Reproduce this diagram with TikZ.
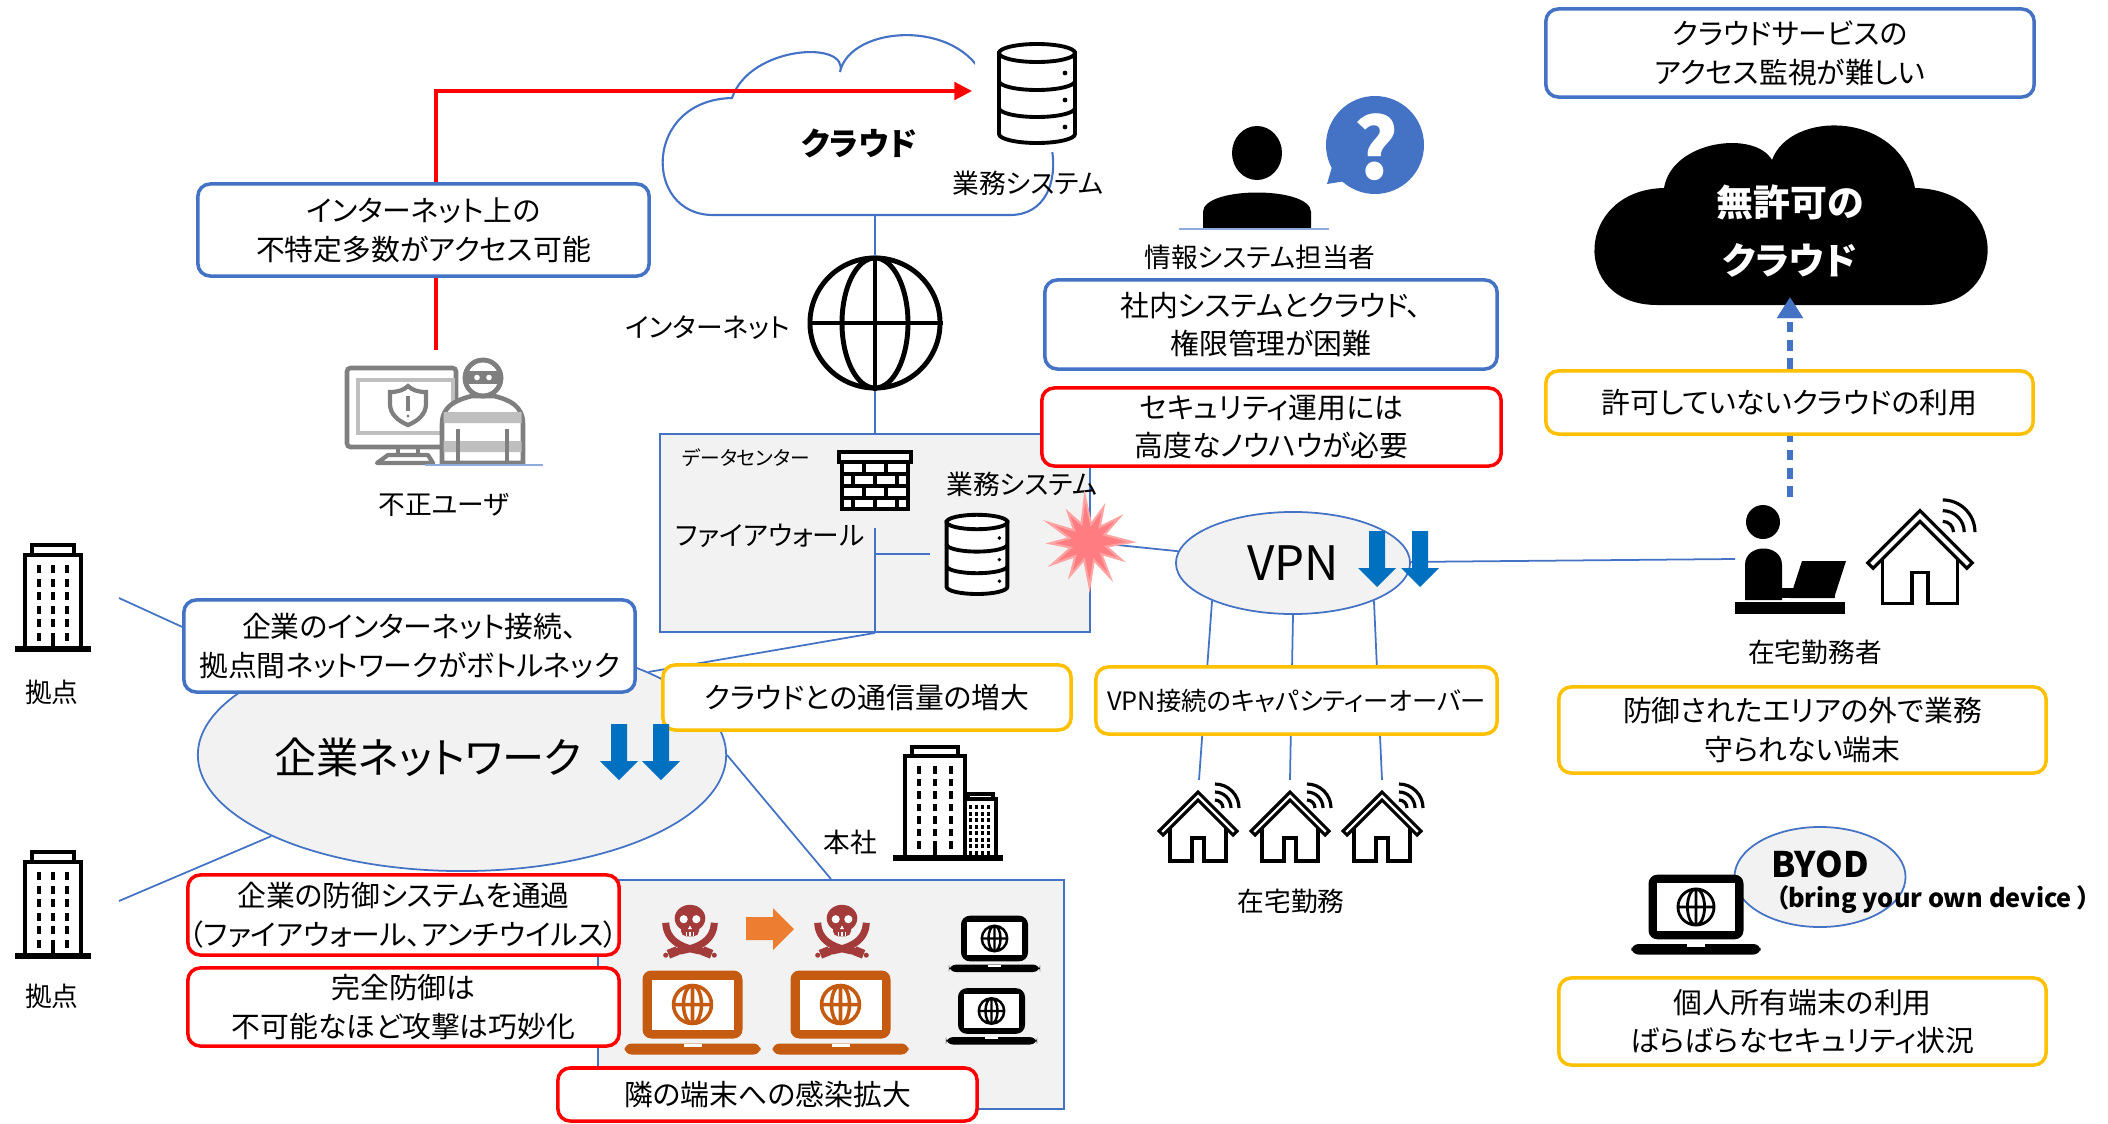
\documentclass[tikz,border=0pt]{standalone}
\usepackage{fontspec}
\setmainfont{Noto Sans CJK JP}[RawFeature=+palt]
\usepackage{xcolor}
\usetikzlibrary{positioning, shapes.geometric, arrows.meta}

\definecolor{msblue}{HTML}{4472C4}
\definecolor{msred}{HTML}{FF0000}
\definecolor{msgold}{HTML}{FFC000}
\definecolor{flowblue}{HTML}{0070C0}
\definecolor{panel}{HTML}{F2F2F2}
\definecolor{burstpink}{HTML}{FF7C80}
\definecolor{burstedge}{HTML}{FFA3A3}
\definecolor{skull}{HTML}{A33B3B}
\definecolor{rust}{HTML}{C55A11}
\definecolor{tangerine}{HTML}{ED7D31}
\definecolor{ink}{HTML}{7F7F7F}
\definecolor{mist}{HTML}{BFBFBF}
\definecolor{paleblue}{HTML}{8FAADC}

\newcommand\boxfont{\fontsize{8.2}{11}\selectfont}
\newcommand\tagfont{\fontsize{7.6}{9}\selectfont}

\tikzset{
  pics/dbstack/.style={code={
    \filldraw[fill=white, line width=1.1pt] (-38,0) -- (-38,81) arc (180:0:38 and 9) -- (38,0) -- cycle;
    \filldraw[fill=white, line width=1.1pt] (0,0) ellipse (38 and 9);
    \draw[line width=1.1pt] (-38,28) arc (180:0:38 and 9) (-38,55) arc (180:0:38 and 9);
    \fill (28,20) circle (2.4) (28,47) circle (2.4) (28,74) circle (2.4);
  }},
  pics/laptop/.style={code={
    \fill[rounded corners=2.5pt] (-50,-34) rectangle (50,34);
    \fill[white] (-41,-25) rectangle (41,25);
    \fill[rounded corners=2pt] (-68,39) rectangle (68,50);
    \fill[white] (-9,39) rectangle (9,42.5);
    \draw[line width=#1] (0,0) circle (19) (0,-19) -- (0,19) (-19,0) -- (19,0) (0,0) ellipse (9 and 19);
  }},
  pics/jollyroger/.style={code={
    \fill (0,-3) ellipse (17 and 15);
    \fill[rounded corners=1.5pt] (-10,3) rectangle (10,17);
    \fill[white] (-7,-2) circle (4.5) (7,-2) circle (4.5);
    \fill[white] (0,5) -- (-2.2,9) -- (2.2,9) -- cycle;
    \draw[white, line width=0.5pt] (-4,12) -- (-4,17) (0,12) -- (0,17) (4,12) -- (4,17);
    \draw[line width=2pt] (-27,2) .. controls (-26,24) and (-6,31) .. (16,34);
    \draw[line width=2pt] (27,2) .. controls (26,24) and (6,31) .. (-16,34);
    \draw[line width=2.6pt] (14,33) -- (24,37) (-14,33) -- (-24,37);
    \fill (27,38) circle (2.8) (-27,38) circle (2.8);
  }},
  pics/tower/.style={code={
    \filldraw[fill=white, line width=1.1pt] (-28,-94) rectangle (28,0);
    \filldraw[fill=white, line width=1.1pt] (-21,-104) rectangle (21,-94);
    \draw[line width=1.6pt] (-38,0) -- (38,0);
    \foreach \c in {-14,14}
      \foreach \r in {0,...,5}
        \fill (\c-2.3,-84+13.5*\r) rectangle ++(4.6,8);
    \foreach \r in {0,...,4}
      \fill (-2.3,-84+13.5*\r) rectangle ++(4.6,8);
    \fill (-2.3,-16.5) rectangle (2.3,0);
  }},
  pics/home/.style={code={
    \filldraw[fill=white, line width=0.9pt, line join=miter] (-39,38) -- (0,-1) -- (39,38) -- (35,42) -- (0,7) -- (-35,42) -- cycle;
    \draw[line width=0.9pt] (-28,35) -- (-28,68) -- (-6,68) -- (-6,45) -- (6,45) -- (6,68) -- (28,68) -- (28,35);
    \draw[line width=0.9pt] (25,15) arc (0:-90:8) (33,15) arc (0:-90:16) (41,15) arc (0:-90:24);
  }},
  pics/bricks/.style={code={
    \filldraw[fill=white, line width=0.9pt] (-33,-19) rectangle (33,28);
    \filldraw[fill=white, line width=0.9pt] (-36,-29) rectangle (36,-19);
    \draw[line width=0.9pt] (-33,-7) -- (33,-7) (-33,5) -- (33,5) (-33,17) -- (33,17);
    \draw[line width=0.9pt] (-11,-19) -- (-11,-7) (11,-19) -- (11,-7)
      (-22,-7) -- (-22,5) (0,-7) -- (0,5) (22,-7) -- (22,5)
      (-11,5) -- (-11,17) (11,5) -- (11,17)
      (-22,17) -- (-22,28) (0,17) -- (0,28) (22,17) -- (22,28);
  }},
  pics/downarrow/.style={code={
    \fill[flowblue] (-8,0) -- (8,0) -- (8,37) -- (19,37) -- (0,56) -- (-19,37) -- (-8,37) -- cycle;
  }},
}

\begin{document}
\begin{tikzpicture}[x=0.01cm, y=-0.01cm,
  note/.style={draw=msblue, line width=1pt, rounded corners=3.5pt, fill=white,
    align=center, inner sep=0pt, font=\boxfont},
  warn/.style={note, draw=msred},
  issue/.style={note, draw=msgold},
  link/.style={draw=msblue, line width=0.5pt},
  tag/.style={font=\tagfont, inner sep=0pt},
  area/.style={draw=msblue, line width=0.5pt, fill=panel, inner sep=0pt}
  ]
\useasboundingbox (0,0) rectangle (2108,1124);

\coordinate (thief) at (436,350);
\coordinate (srvin) at (972,91);
\coordinate (cloudbot) at (875,215);
\coordinate (fwfoot) at (875,528);
\coordinate (fwtap) at (875,554);
\coordinate (dbtap) at (930,554);
\coordinate (hubA) at (119,598);
\coordinate (hubB) at (119,901);
\coordinate (homeA) at (1199,780);
\coordinate (homeB) at (1290,780);
\coordinate (homeC) at (1382,780);
\coordinate (worker) at (1735,559);
\coordinate (workertop) at (1790,497);
\coordinate (shadow) at (1790,297);
\coordinate (burst) at (1088,542);

% cloud with the business server
\draw[msblue, line width=0.6pt] (1010,215) -- (713,215)
  .. controls (643,215) and (643,100) .. (732,98)
  .. controls (750,45) and (850,40) .. (840,72)
  .. controls (850,25) and (960,18) .. (985,80)
  .. controls (1060,85) and (1080,215) .. (1010,215);
\fill[white] (975,30) rectangle (1090,152);
\pic at (1037,53) {dbstack};
\node[font=\fontsize{9}{9}\selectfont\bfseries] (cloudname) at (859,143) {クラウド};
\node[tag] (srvname) at (1028,183) {業務システム};

% panels and ellipses
\node[area, minimum width=4.30cm, minimum height=1.98cm] (dc) at (875,533) {};
\node[area, minimum width=4.66cm, minimum height=2.29cm] (office) at (831,994.5) {};
\node[area, ellipse, minimum width=5.28cm, minimum height=2.32cm] (corpnet) at (462,755) {};
\node[area, ellipse, minimum width=2.34cm, minimum height=1.02cm,
  font=\fontsize{13.5}{14}\selectfont] (vpn) at (1293,563) {VPN};
\node[area, ellipse, minimum width=1.71cm, minimum height=1.0cm] (byod) at (1820,877) {};
\node[draw, circle, line width=1.4pt, minimum size=1.3cm, inner sep=0pt] (globe) at (875,323) {};
\draw[line width=1.4pt] (globe.north) -- (globe.south) (globe.west) -- (globe.east);
\draw[line width=1.4pt] (globe) ellipse (33 and 65);

% connections
\draw[link] (cloudbot) -- (globe);
\draw[link] (globe) -- (dc);
\draw[link] (fwfoot) -- (dc.south);
\draw[link] (fwtap) -- (dbtap);
\draw[link] (dc.south) -- (corpnet.24);
\draw[link] (hubA) -- (corpnet);
\draw[link] (hubB) -- (corpnet);
\draw[link] (corpnet.east) -- (office.north);
\draw[link] (burst) -- (vpn);
\draw[link] (vpn) -- (worker);
\draw[link] (vpn.205) -- (homeA);
\draw[link] (vpn.south) -- (homeB);
\draw[link] (vpn.335) -- (homeC);
\draw[msred, line width=0.9pt, -{Triangle[length=5pt,width=5pt]}] (thief) |- (srvin);
\draw[msblue, line width=1.6pt, dash pattern=on 3pt off 2.2pt,
  -{Triangle[length=6pt,width=7pt]}] (workertop) -- (shadow);

% unapproved cloud
\fill (1657,305) .. controls (1570,305) and (1575,190) .. (1664,188)
  .. controls (1672,140) and (1755,130) .. (1772,160)
  .. controls (1790,110) and (1900,110) .. (1915,188)
  .. controls (2010,190) and (2010,305) .. (1926,305) -- cycle;
\node[text=white, align=center, font=\fontsize{10.5}{16.7}\selectfont\bfseries] (nocloud) at (1790,231) {無許可の\\クラウド};
\draw[msblue, line width=1.6pt, -{Triangle[length=6pt,width=7pt]}] (1790,312) -- (shadow);

% call-outs
\node[note, minimum width=4.51cm, minimum height=0.92cm] (openaccess) at (423.5,230) {インターネット上の\\不特定多数がアクセス可能};
\node[note, minimum width=4.51cm, minimum height=0.92cm] (bottleneck) at (409.5,646) {企業のインターネット接続、\\拠点間ネットワークがボトルネック};
\node[issue, minimum width=4.08cm, minimum height=0.65cm] (traffic) at (867,697.5) {クラウドとの通信量の増大};
\node[issue, minimum width=4.01cm, minimum height=0.67cm, font=\fontsize{7.2}{9}\selectfont] (overload) at (1296.5,700.5) {VPN接続のキャパシティーオーバー};
\node[note, minimum width=4.52cm, minimum height=0.89cm] (rights) at (1271,324.5) {社内システムとクラウド、\\権限管理が困難};
\node[warn, minimum width=4.59cm, minimum height=0.78cm] (knowhow) at (1271.5,427) {セキュリティ運用には\\高度なノウハウが必要};
\node[note, minimum width=4.88cm, minimum height=0.88cm] (watch) at (1790,53) {クラウドサービスの\\アクセス監視が難しい};
\node[issue, minimum width=4.87cm, minimum height=0.63cm] (shadowuse) at (1789.5,402.5) {許可していないクラウドの利用};
\node[issue, minimum width=4.87cm, minimum height=0.86cm] (outside) at (1802.5,730) {防御されたエリアの外で業務\\守られない端末};
\node[issue, minimum width=4.87cm, minimum height=0.87cm] (byoduse) at (1802.5,1021.5) {個人所有端末の利用\\ばらばらなセキュリティ状況};
\node[warn, minimum width=4.31cm, minimum height=0.80cm] (bypass) at (403.5,915) {企業の防御システムを通過\\（ファイアウォール、アンチウイルス）};
\node[warn, minimum width=4.31cm, minimum height=0.78cm] (evolve) at (403.5,1007) {完全防御は\\不可能なほど攻撃は巧妙化};
\node[warn, minimum width=4.19cm, minimum height=0.53cm] (spread) at (767.5,1094.5) {隣の端末への感染拡大};

% network labels and flow arrows
\node[font=\fontsize{12}{12}\selectfont] (corpname) at (428,757) {企業ネットワーク};
\pic at (619,724) {downarrow};
\pic at (661,724) {downarrow};
\pic at (1377,531) {downarrow};
\pic at (1420,531) {downarrow};
\node[tag] (netname) at (708,328) {インターネット};

% data centre
\node[font=\fontsize{5.6}{6}\selectfont, inner sep=0pt] (dcname) at (746,458) {データセンター};
\pic at (875,481) {bricks};
\node[tag] (dcsys) at (1022,484) {業務システム};
\node[tag] (fwname) at (770,536) {ファイアウォール};
\pic[scale=0.8] at (977,522) {dbstack};
\filldraw[fill=burstpink, draw=burstedge, line width=0.6pt, shift={(1088,542)}]
  (0:44) -- (14:19) -- (28:38) -- (42:18) -- (58:42) -- (72:19) -- (88:45) -- (102:18)
  -- (118:38) -- (132:19) -- (148:42) -- (162:18) -- (178:38) -- (192:19) -- (206:44)
  -- (220:18) -- (236:36) -- (250:19) -- (266:46) -- (280:18) -- (294:38) -- (308:19)
  -- (322:40) -- (336:18) -- cycle;

% intruder at the monitor
\draw[ink, line width=1.3pt, rounded corners=1pt] (347,368) rectangle (456,447);
\draw[mist, line width=1pt] (358,380) rectangle (453,433);
\draw[ink, line width=1.2pt] (390,392) .. controls (398,392) and (404,390) .. (408,386)
  .. controls (412,390) and (418,392) .. (426,392) -- (426,404)
  .. controls (426,414) and (418,421) .. (408,425)
  .. controls (398,421) and (390,414) .. (390,404) -- cycle;
\draw[ink, line width=1.3pt] (408,396) -- (408,411);
\fill[ink] (408,416) circle (1.6);
\draw[ink, line width=1.2pt] (398,447) -- (398,455) (418,447) -- (418,455);
\draw[ink, line width=1.2pt, line join=round] (388,455) -- (428,455) -- (433,463) -- (377,463) -- cycle;
\filldraw[fill=white, draw=ink, line width=1.3pt] (442,463) -- (442,424)
  .. controls (442,406) and (456,400) .. (472,396) -- (494,396)
  .. controls (510,400) and (523,406) .. (523,424) -- (523,463) -- cycle;
\fill[mist] (443.5,412) rectangle (521.5,423) (443.5,441) rectangle (521.5,452);
\draw[ink, line width=1.2pt] (458,429) -- (458,463) (507,429) -- (507,463);
\filldraw[fill=white, draw=ink, line width=1.3pt] (483,378) circle (18);
\begin{scope}
  \clip (483,378) circle (18);
  \fill[ink] (460,371) rectangle (506,384);
\end{scope}
\fill[white] (477,377.5) circle (2.8) (489,377.5) circle (2.8);
\draw[ink, line width=1.3pt] (483,378) circle (18);
\draw[paleblue, line width=0.6pt] (425,465) -- (543,465);
\node[tag] (thiefname) at (444,505) {不正ユーザ};

% IT staff with question
\fill (1257,153) ellipse (25 and 27);
\fill (1203,229) -- (1203,212) .. controls (1203,186) and (1311,186) .. (1311,212) -- (1311,229) -- cycle;
\draw[paleblue, line width=0.8pt] (1179,229) -- (1329,229);
\fill[msblue] (1375,145) circle (49);
\fill[msblue] (1334,160) -- (1327,184) -- (1352,180) -- cycle;
\node[text=white, font=\fontsize{24}{24}\selectfont\bfseries] (ask) at (1376,147) {?};
\node[tag] (itname) at (1260,257) {情報システム担当者};

% branch offices
\pic at (53,649) {tower};
\pic at (53,956) {tower};
\node[tag] (siteA) at (52,692) {拠点};
\node[tag] (siteB) at (52,996) {拠点};

% head office
\draw[line width=1.1pt, fill=white] (905,756) rectangle (965,858);
\draw[line width=1.1pt, fill=white] (912,747) rectangle (958,756);
\draw[line width=1pt, fill=white] (965,799) rectangle (996,858);
\draw[line width=1pt, fill=white] (968,794) rectangle (993,799);
\foreach \c in {917,949}
  \foreach \r in {0,...,6}
    \fill (\c,766+12.5*\r) rectangle ++(4,7.5);
\foreach \r in {0,...,5}
  \fill (933,766+12.5*\r) rectangle ++(4,7.5);
\fill (933,841) rectangle (937,858);
\foreach \c in {969,975,981,987}
  \foreach \r in {0,...,7}
    \fill (\c,805+6.5*\r) rectangle ++(2.5,4);
\draw[line width=1.6pt] (893,858) -- (1003,858);
\node[tag] (hqname) at (850,842) {本社};

% infection inside the office
\pic[color=skull, scale=0.9] at (690,921) {jollyroger};
\pic[color=skull, scale=0.9] at (842,921) {jollyroger};
\fill[tangerine] (746,917) -- (773,917) -- (773,908) -- (794,929) -- (773,950) -- (773,940) -- (746,940) -- cycle;
\pic[color=rust] at (692.5,1004.5) {laptop=1pt};
\pic[color=rust] at (840.5,1004.5) {laptop=1pt};
\pic[scale=0.67] at (994.5,938.5) {laptop=0.7pt};
\pic[scale=0.67] at (991.5,1011) {laptop=0.7pt};

% home workers
\pic at (1198,793) {home};
\pic at (1290,793) {home};
\pic at (1382,793) {home};
\node[tag] (homename) at (1291,901) {在宅勤務};
\fill (1763,522) circle (17);
\fill (1745,600) -- (1745,565) .. controls (1745,543) and (1782,543) .. (1782,565) -- (1782,600) -- cycle;
\fill (1770,588) rectangle (1835,598);
\fill (1802,561) -- (1846,561) -- (1834,598) -- (1790,598) -- cycle;
\fill (1735,602) rectangle (1845,614);
\pic[scale=1.34] at (1920,512) {home};
\node[tag] (workername) at (1815,652) {在宅勤務者};

% own device
\pic[scale=0.95] at (1696,907) {laptop=0.8pt};
\node[font=\fontsize{10}{10}\selectfont\bfseries] (byodname) at (1820,864) {BYOD};
\node[font=\fontsize{7.2}{8}\selectfont\bfseries] (byodlong) at (1933,900) {（bring your own device ）};
\end{tikzpicture}
\end{document}
